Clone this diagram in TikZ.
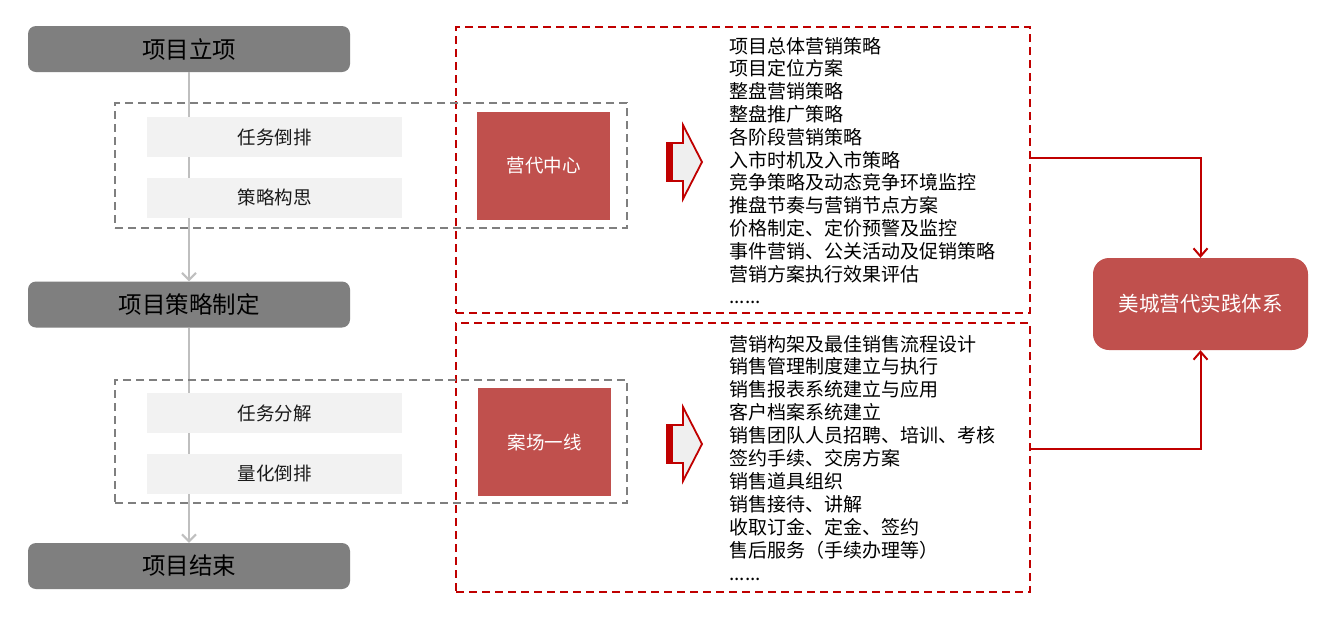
\documentclass[tikz,border=0pt]{standalone}
\usepackage{fontspec}
\setmainfont{Noto Sans CJK SC}
\usetikzlibrary{arrows.meta}
\definecolor{boxgray}{HTML}{7F7F7F}
\definecolor{taskgray}{HTML}{F2F2F2}
\definecolor{linegray}{HTML}{BFBFBF}
\definecolor{darkred}{HTML}{C00000}
\definecolor{boxred}{HTML}{C0504D}
\definecolor{dashgray}{HTML}{7F7F7F}
\definecolor{arrowfill}{HTML}{EFEFEF}
\newcommand\sixdots{......}
\begin{document}
\begin{tikzpicture}[x=1pt,y=-1pt,
  phase/.style={fill=boxgray, rounded corners=8pt, minimum width=322pt, minimum height=46pt, inner sep=0pt, font=\fontsize{23.5}{27}\selectfont, text=black},
  task/.style={fill=taskgray, minimum width=255pt, minimum height=40pt, inner sep=0pt, font=\fontsize{18.5}{22}\selectfont, text=black!90},
  graydash/.style={draw=dashgray, line width=1.8pt, dash pattern=on 8pt off 5pt, inner sep=0pt},
  reddash/.style={draw=darkred, line width=1.8pt, dash pattern=on 8pt off 5pt, inner sep=0pt},
  center/.style={fill=boxred, inner sep=0pt, minimum width=133pt, minimum height=108pt, font=\fontsize{18.5}{22}\selectfont, text=white},
  result/.style={fill=boxred, rounded corners=16pt, inner sep=0pt, minimum width=215pt, minimum height=92pt, font=\fontsize{20.5}{24}\selectfont, text=white},
  listtext/.style={inner sep=0pt, anchor=base west, font=\fontsize{19}{22}\selectfont, text=black},
  grayline/.style={draw=linegray, line width=2pt, -{Straight Barb[length=7pt,width=14pt,line width=2pt]}},
  redline/.style={draw=darkred, line width=2pt, -{Straight Barb[length=8pt,width=14pt,line width=2pt]}},
  fatarrow/.pic={
    \filldraw[fill=arrowfill, draw=darkred, line width=1.8pt, line join=miter]
      (0,-19) -- (16,-19) -- (16,-37) -- (35,0) -- (16,37) -- (16,19) -- (0,19) -- cycle;
    \fill[darkred] (0,-19) rectangle (6,19);
  }
]
\useasboundingbox (0,0) rectangle (1331,638);
\fill[white] (0,0) rectangle (1331,638);

% left column
\node[phase] (p1) at (189,49) {项目立项};
\node[phase] (p2) at (189,304.5) {项目策略制定};
\node[phase] (p3) at (189,566) {项目结束};
\draw[grayline] (p1.south) -- (p2.north);
\draw[grayline] (p2.south) -- (p3.north);

\node[task] (t1) at (274.5,137) {任务倒排};
\node[task] (t2) at (274.5,197.5) {策略构思};
\node[task] (t3) at (274.5,413) {任务分解};
\node[task] (t4) at (274.5,473.5) {量化倒排};

% red dashed frames
\node[reddash, minimum width=574pt, minimum height=286pt] (rb1) at (743,170) {};
\node[reddash, minimum width=574pt, minimum height=269pt] (rb2) at (743,457.5) {};

% gray dashed frames
\node[graydash, minimum width=512pt, minimum height=125pt] (g1) at (371,165.5) {};
\node[graydash, minimum width=512pt, minimum height=123pt] (g2) at (371,441.5) {};

% centres
\node[center] (c1) at (543.5,165.5) {营代中心};
\node[center] (c2) at (544.5,442) {案场一线};

% block arrows
\pic at (667,162) {fatarrow};
\pic at (667,444) {fatarrow};

% lists
\foreach \t [count=\i] in {项目总体营销策略,项目定位方案,整盘营销策略,整盘推广策略,各阶段营销策略,入市时机及入市策略,竞争策略及动态竞争环境监控,推盘节奏与营销节点方案,价格制定、定价预警及监控,事件营销、公关活动及促销策略,营销方案执行效果评估,\sixdots}
  \node[listtext] (a\i) at (729,{46+22.8*(\i-1)+7}) {\t};
\foreach \t [count=\i] in {营销构架及最佳销售流程设计,销售管理制度建立与执行,销售报表系统建立与应用,客户档案系统建立,销售团队人员招聘、培训、考核,签约手续、交房方案,销售道具组织,销售接待、讲解,收取订金、定金、签约,售后服务（手续办理等）,\sixdots}
  \node[listtext] (b\i) at (729,{344+22.9*(\i-1)+7}) {\t};

% result
\node[result] (mc) at (1200.5,304) {美城营代实践体系};
\coordinate (j1) at (1201,158);
\coordinate (j2) at (1201,449);
\draw[redline] (rb1.east |- j1) -| (mc.north);
\draw[redline] (rb2.east |- j2) -| (mc.south);
\end{tikzpicture}
\end{document}
